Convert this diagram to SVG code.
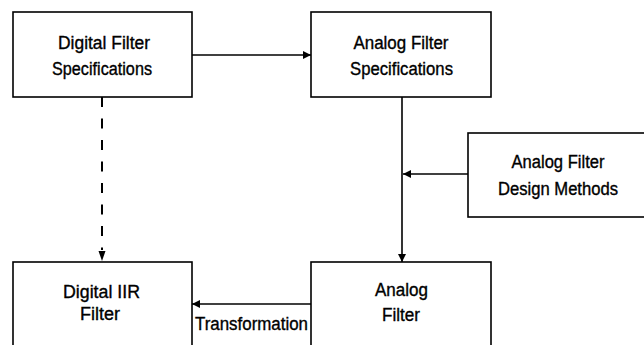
<svg xmlns="http://www.w3.org/2000/svg" width="644" height="345" viewBox="0 0 644 345">
<defs>
<style>
.box{fill:#fff;stroke:#000;stroke-width:1.6}
.t{font-family:"Liberation Sans",Arial,sans-serif;font-size:18px;fill:#000;stroke:#000;stroke-width:0.35;text-anchor:middle}
.c{stroke:#000;stroke-width:1.6;fill:none}
.d{stroke:#000;stroke-width:2;fill:none;stroke-dasharray:10 11.5}
</style>
<marker id="ah" viewBox="0 0 10 10" refX="10" refY="5" markerWidth="8" markerHeight="8" markerUnits="userSpaceOnUse" orient="auto">
<path d="M0,0 L10,5 L0,10 z" fill="#000"/>
</marker>
</defs>
<rect width="644" height="345" fill="#fff"/>
<g id="n1">
<rect class="box" x="13" y="12" width="179" height="85"/>
<text class="t" x="104" y="49" textLength="92" lengthAdjust="spacingAndGlyphs">Digital Filter</text>
<text class="t" x="102" y="75" textLength="100" lengthAdjust="spacingAndGlyphs">Specifications</text>
</g>
<g id="n2">
<rect class="box" x="311" y="12" width="180" height="85"/>
<text class="t" x="401" y="49" textLength="95" lengthAdjust="spacingAndGlyphs">Analog Filter</text>
<text class="t" x="401.5" y="75" textLength="103" lengthAdjust="spacingAndGlyphs">Specifications</text>
</g>
<g id="n3">
<rect class="box" x="468" y="133" width="190" height="84"/>
<text class="t" x="558" y="168" textLength="93" lengthAdjust="spacingAndGlyphs">Analog Filter</text>
<text class="t" x="558" y="195" textLength="120" lengthAdjust="spacingAndGlyphs">Design Methods</text>
</g>
<g id="n4">
<rect class="box" x="311" y="262" width="180" height="100"/>
<text class="t" x="401.5" y="296" textLength="53" lengthAdjust="spacingAndGlyphs">Analog</text>
<text class="t" x="401" y="321" textLength="38" lengthAdjust="spacingAndGlyphs">Filter</text>
</g>
<g id="n5">
<rect class="box" x="13" y="262" width="179" height="100"/>
<text class="t" x="101.5" y="298" textLength="77" lengthAdjust="spacingAndGlyphs">Digital IIR</text>
<text class="t" x="100" y="320" textLength="40" lengthAdjust="spacingAndGlyphs">Filter</text>
</g>
<g id="connectors">
<line class="c" x1="192" y1="55" x2="311" y2="55" marker-end="url(#ah)"/>
<line class="c" x1="402" y1="97" x2="402" y2="262" marker-end="url(#ah)"/>
<line class="c" x1="468" y1="174" x2="403" y2="174" marker-end="url(#ah)"/>
<line class="c" x1="311" y1="304" x2="192" y2="304" marker-end="url(#ah)"/>
<line class="d" x1="102" y1="97" x2="102" y2="250"/>
<path d="M98.5,251 L105.5,251 L102,261 z" fill="#000"/>
<text class="t" x="251.5" y="330" textLength="113" lengthAdjust="spacingAndGlyphs">Transformation</text>
</g>
</svg>
